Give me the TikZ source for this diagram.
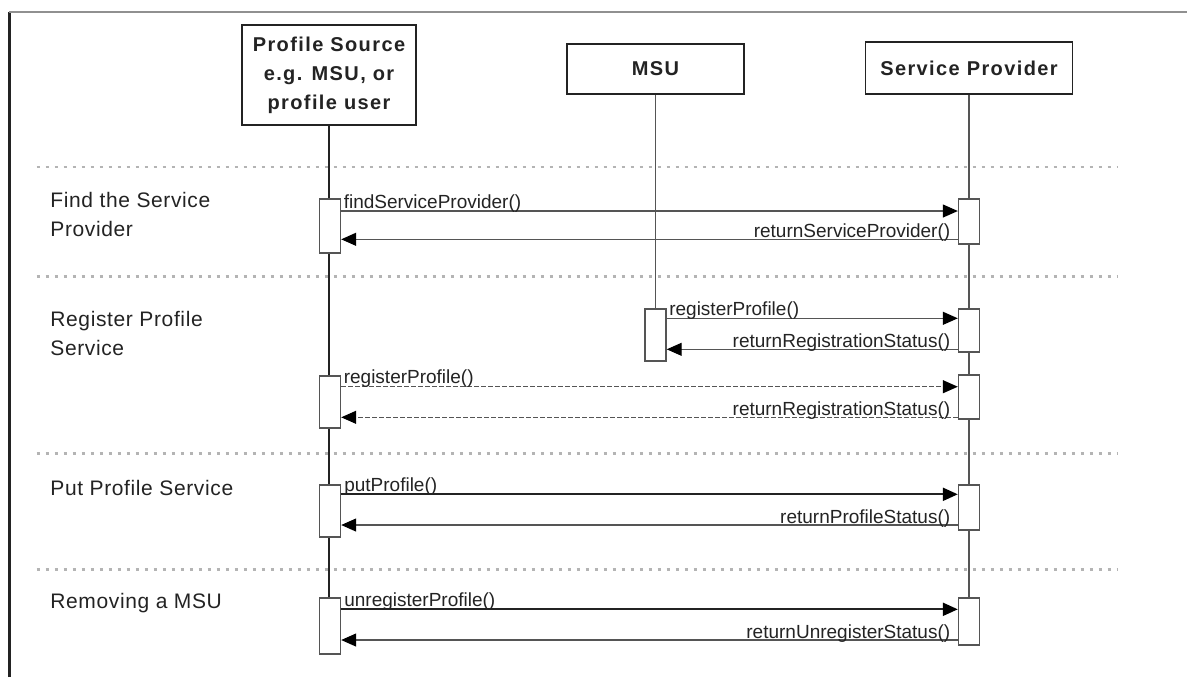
\documentclass[tikz,border=0pt]{standalone}
\usepackage{fontspec}
\setmainfont{Liberation Sans}
\newfontfamily\headfont{Liberation Sans}[LetterSpace=7]
\newfontfamily\phasefont{Liberation Sans}[LetterSpace=3]
\usepackage{tikz}
\usetikzlibrary{arrows.meta}
\definecolor{inkgray}{RGB}{35,35,35}
\definecolor{seqgray}{RGB}{85,85,85}
\definecolor{dotgray}{RGB}{180,180,180}

\begin{document}
\begin{tikzpicture}[
    x=0.5pt, y=-0.5pt,
    actor/.style={rectangle, draw=inkgray, line width=0.8pt, fill=white, inner sep=0pt, align=center, text=inkgray, font=\headfont\bfseries\fontsize{10}{14.5}\selectfont},
    act/.style={rectangle, draw=seqgray, line width=0.7pt, fill=white, inner sep=0pt, minimum width=10.5pt},
    life/.style={seqgray, line width=0.7pt},
    sep/.style={dotgray, line width=1.3pt, dash pattern=on 1.8pt off 2.7pt},
    phase/.style={anchor=base west, align=left, inner sep=0pt, text=inkgray, font=\phasefont\fontsize{10.5}{14.5}\selectfont},
    call/.style={-{Triangle[length=7.5pt, width=6.5pt, color=black]}, seqgray, line width=0.6pt},
    strong/.style={inkgray, line width=1.1pt},
    fwd/.style={anchor=base west, inner sep=0pt, xshift=1pt, yshift=1.5pt, text=inkgray, font=\fontsize{9.5}{11}\selectfont},
    back/.style={anchor=base east, inner sep=0pt, xshift=-3.5pt, yshift=0.8pt, text=inkgray, font=\fontsize{9.5}{11}\selectfont}
]
    \useasboundingbox (0,0) rectangle (1187,677);

    % Frame
    \draw[inkgray, line width=1.5pt] (9.7,677) -- (9.7,11.7);
    \draw[dotgray!80!black, line width=1pt] (9,11.7) -- (1187,11.7);

    % Lifeline heads
    \node[actor, minimum width=87pt, minimum height=50pt] (src) at (329,75) {Profile Source\\e.g. MSU, or\\profile user};
    \node[actor, minimum width=88.5pt, minimum height=25pt] (msu) at (655.5,69) {MSU};
    \node[actor, minimum width=103.5pt, minimum height=26pt] (sp) at (969,68) {Service Provider};

    % Lifelines
    \coordinate (srcend) at (329,598);
    \coordinate (msuend) at (655.5,309);
    \coordinate (spend) at (969,598);
    \draw[inkgray, line width=1.2pt] (src.south) -- (srcend);
    \draw[life] (msu.south) -- (msuend);
    \draw[life] (sp.south) -- (spend);

    % Phase separators
    \foreach \y in {167, 276.7, 453.3, 569.3}
        \draw[sep] (36.7,\y) -- (1118,\y);

    % Phase names (base = last line)
    \node[phase] (find) at (50,236.5) {Find the Service\\Provider};
    \node[phase] (register) at (50,355) {Register Profile\\Service};
    \node[phase] (put) at (50,495) {Put Profile Service};
    \node[phase] (remove) at (50,608.3) {Removing a MSU};

    % Activations
    \node[act, minimum height=27pt] (src1) at (330,226) {};
    \node[act, minimum height=22.5pt] (sp1) at (969,221.5) {};
    \node[act, minimum height=26pt] (msu1) at (655.5,335) {};
    \node[act, minimum height=21.5pt] (sp2) at (969,330.5) {};
    \node[act, minimum height=26pt] (src2) at (330,402) {};
    \node[act, minimum height=22pt] (sp3) at (969,397) {};
    \node[act, minimum height=26pt] (src3) at (330,511) {};
    \node[act, minimum height=22.5pt] (sp4) at (969,507.5) {};
    \node[act, minimum height=28pt] (src4) at (330,626) {};
    \node[act, minimum height=23.5pt] (sp5) at (969,621.5) {};

    % Find the service provider
    \draw[call] (src1.east |- 0,211) -- (sp1.west |- 0,211) node[pos=0, fwd] {findServiceProvider()};
    \draw[call] (sp1.west |- 0,239.3) -- (src1.east |- 0,239.3) node[pos=0, back] {returnServiceProvider()};

    % Register profile service
    \draw[call] (msu1.east |- 0,318.3) -- (sp2.west |- 0,318.3) node[pos=0, fwd] {registerProfile()};
    \draw[call] (sp2.west |- 0,349.3) -- (msu1.east |- 0,349.3) node[pos=0, back] {returnRegistrationStatus()};
    \draw[call, dash pattern=on 2.5pt off 1pt] (src2.east |- 0,386.7) -- (sp3.west |- 0,386.7) node[pos=0, fwd] {registerProfile()};
    \draw[call, dash pattern=on 2.5pt off 1pt] (sp3.west |- 0,417.3) -- (src2.east |- 0,417.3) node[pos=0, back] {returnRegistrationStatus()};

    % Put profile service
    \draw[call, strong] (src3.east |- 0,494.3) -- (sp4.west |- 0,494.3) node[pos=0, fwd] {putProfile()};
    \draw[call] (sp4.west |- 0,525) -- (src3.east |- 0,525) node[pos=0, back] {returnProfileStatus()};

    % Removing a MSU
    \draw[call, strong] (src4.east |- 0,609.3) -- (sp5.west |- 0,609.3) node[pos=0, fwd] {unregisterProfile()};
    \draw[call] (sp5.west |- 0,640) -- (src4.east |- 0,640) node[pos=0, back] {returnUnregisterStatus()};
\end{tikzpicture}
\end{document}
